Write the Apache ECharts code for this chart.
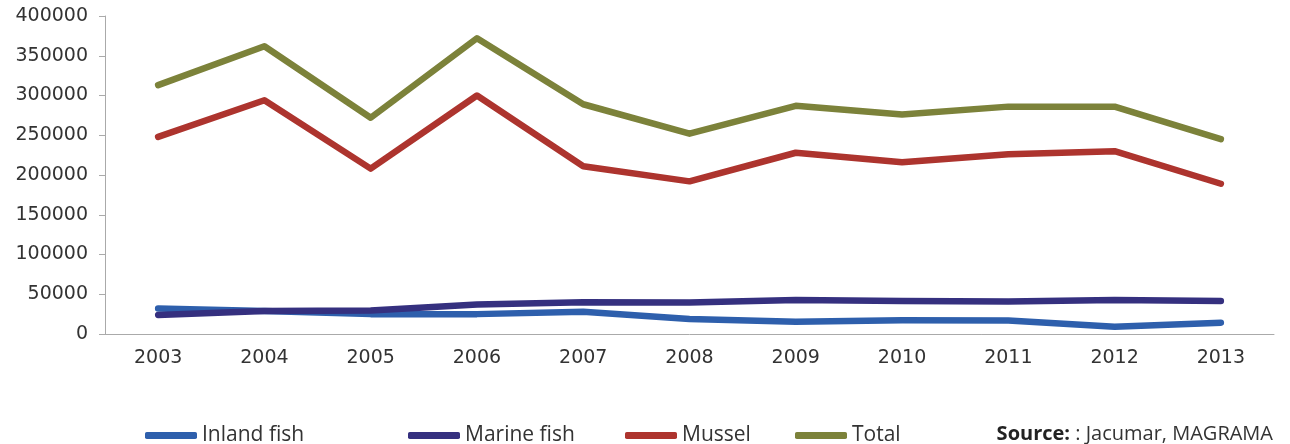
<!DOCTYPE html>
<html>
<head>
<meta charset="utf-8">
<script src="https://cdn.jsdelivr.net/npm/echarts@6/dist/echarts.min.js"></script>
<style>
  html, body { margin: 0; padding: 0; background: #fff; }
  #chart { width: 1290px; height: 444px; }
</style>
</head>
<body>
<div id="chart"></div>
<script>
// años y producción (toneladas)
var years = ['2003', '2004', '2005', '2006', '2007', '2008', '2009', '2010', '2011', '2012', '2013'];
var inlandFish = [32000, 29000, 25000, 25000, 28000, 19000, 15500, 17200, 17000, 9200, 14200];
var marineFish = [24000, 29000, 29500, 37000, 40000, 39500, 42800, 41500, 40800, 42800, 41500];
var mussel = [248000, 294000, 208000, 300000, 211000, 192000, 228000, 216000, 226000, 230000, 189000];
var total = [313000, 362000, 272000, 372000, 289000, 252000, 287000, 276000, 286000, 286000, 245000];

var seriesNames = ['Inland fish', 'Marine fish', 'Mussel', 'Total'];
var seriesColors = ['#2e5fac', '#35307f', '#ad342e', '#7c823a'];
var seriesData = [inlandFish, marineFish, mussel, total];
// posición x de cada leyenda (no son equidistantes en el original)
var legendLeft = [140, 403, 620, 790];

var chart = echarts.init(document.getElementById('chart'));

var legends = seriesNames.map(function (name, i) {
  return {
    data: [name],
    left: legendLeft[i],
    top: 420,
    icon: 'roundRect',
    itemWidth: 52,
    itemHeight: 7,
    itemGap: 11,
    textStyle: {
      fontFamily: 'Open Sans',
      fontSize: 21,
      color: '#333'
    }
  };
});

var series = seriesNames.map(function (name, i) {
  return {
    name: name,
    type: 'line',
    data: seriesData[i],
    symbol: 'none',
    color: seriesColors[i],
    lineStyle: { width: 6.5, cap: 'round', join: 'round' }
  };
});

var option = {
  animation: false,
  grid: { left: 105, right: 16, top: 16, bottom: 110 },
  legend: legends,
  title: {
    right: 12,
    top: 419,
    text: '{b|Source:} : Jacumar, MAGRAMA',
    textStyle: {
      rich: {
        b: { fontFamily: 'Open Sans', fontSize: 20, fontWeight: 'bold', color: '#222' }
      },
      fontFamily: 'Open Sans',
      fontSize: 20,
      fontWeight: 'normal',
      color: '#333'
    }
  },
  xAxis: {
    type: 'category',
    data: years,
    boundaryGap: true,
    axisLine: { lineStyle: { color: '#aaa', width: 1 } },
    axisTick: { length: 6, lineStyle: { color: '#aaa' } },
    axisLabel: {
      margin: 15,
      fontFamily: 'DejaVu Sans',
      fontSize: 19,
      color: '#333'
    }
  },
  yAxis: {
    type: 'value',
    min: 0,
    max: 400000,
    interval: 50000,
    splitLine: { show: false },
    axisLine: { show: true, lineStyle: { color: '#aaa', width: 1 } },
    axisTick: { show: true, length: 6, lineStyle: { color: '#aaa' } },
    axisLabel: {
      margin: 17,
      fontFamily: 'DejaVu Sans',
      fontSize: 19,
      color: '#333',
      formatter: function (v) { return String(v); }
    }
  },
  series: series
};

chart.setOption(option);
</script>
</body>
</html>
